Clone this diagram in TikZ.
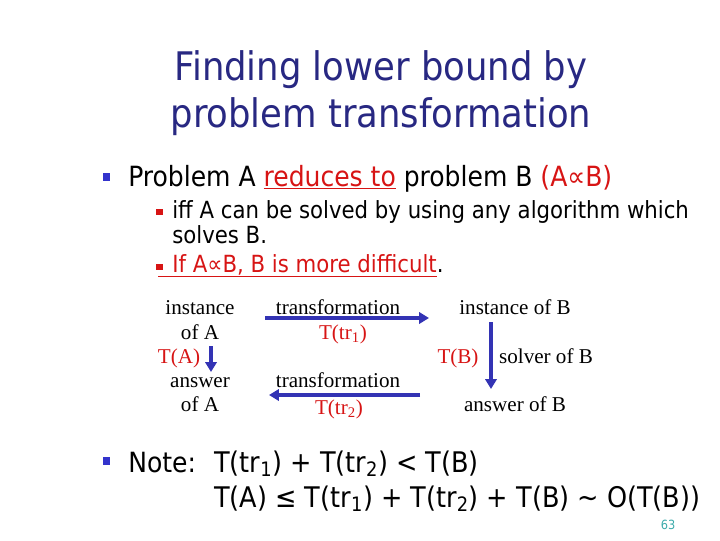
\documentclass[tikz,border=0pt]{standalone}
\usepackage{fontspec}
\setmainfont{DejaVu Sans Condensed}
\newfontfamily\diagfont{Liberation Serif}
\usetikzlibrary{arrows.meta}

\definecolor{titleblue}{RGB}{40,40,130}
\definecolor{bulletblue}{RGB}{51,51,204}
\definecolor{slidered}{RGB}{215,20,20}
\definecolor{arrowblue}{RGB}{51,51,180}
\definecolor{pageteal}{RGB}{60,170,170}

\begin{document}
\begin{tikzpicture}[x=0.025cm, y=-0.025cm,
	bul/.style={fill=bulletblue, inner sep=0pt, minimum size=5.5pt},
	subbul/.style={fill=slidered, inner sep=0pt, minimum size=4.5pt},
	txt/.style={anchor=base west, inner sep=0pt, font=\fontsize{19.8}{24}\selectfont},
	subtxt/.style={anchor=base west, inner sep=0pt, font=\fontsize{16.8}{20}\selectfont},
	dg/.style={anchor=base, inner sep=0pt, font=\diagfont\fontsize{15}{17}\selectfont},
	flow/.style={draw=arrowblue, line width=2.8pt, -{Triangle[length=7pt,width=8pt]}}]
	\useasboundingbox (0,0) rectangle (720,540);

	% title
	\node (title1) [anchor=base, inner sep=0pt, text=titleblue, font=\fontsize{28}{32}\selectfont] at (381,80) {Finding lower bound by};
	\node (title2) [anchor=base, inner sep=0pt, text=titleblue, font=\fontsize{28}{32}\selectfont] at (381,127) {problem transformation};

	% bullets
	\node (b1) [bul] at (106.5,177) {};
	\node (p1) [txt] at (128,186) {Problem A \textcolor{slidered}{\underline{reduces to}} problem B \textcolor{slidered}{(A∝B)}};
	\node (s1) [subbul] at (159.5,212) {};
	\node (q1) [subtxt] at (172,218) {iff A can be solved by using any algorithm which};
	\node (q2) [subtxt] at (172,243) {solves B.};
	\node (s2) [subbul] at (159.5,267) {};
	\node (q3) [subtxt] at (158,272) {\textcolor{slidered}{\underline{\hspace{10pt}If A∝B, B is more difficult}}.};

	% diagram
	\node (instA) [dg] at (200,314) {instance};
	\node (ofA1) [dg] at (200,339) {of A};
	\node (TA) [dg, text=slidered] at (179,363) {T(A)};
	\node (ansA) [dg] at (200,387) {answer};
	\node (ofA2) [dg] at (200,411) {of A};
	\node (tr1) [dg] at (338,314) {transformation};
	\node (Ttr1) [dg, text=slidered] at (343,339) {T(tr\textsubscript{1})};
	\node (tr2) [dg] at (338,387) {transformation};
	\node (Ttr2) [dg, text=slidered] at (339,414) {T(tr\textsubscript{2})};
	\node (instB) [dg] at (515,314) {instance of B};
	\node (TB) [dg, text=slidered] at (458,363) {T(B)};
	\node (solB) [dg] at (546,363) {solver of B};
	\node (ansB) [dg] at (515,411) {answer of B};

	\coordinate (a1) at (211,346);
	\coordinate (a2) at (211,372);
	\coordinate (t1s) at (265,318);
	\coordinate (t1e) at (429,318);
	\coordinate (bs) at (491,322);
	\coordinate (be) at (491,389);
	\coordinate (t2s) at (420,395);
	\coordinate (t2e) at (269,395);

	\draw [flow] (a1) -- (a2);
	\draw [flow] (t1s) -- (t1e);
	\draw [flow] (bs) -- (be);
	\draw [flow] (t2s) -- (t2e);

	% note
	\node (b2) [bul] at (106.5,461) {};
	\node (note) [txt] at (128,472) {Note:};
	\node (n1) [txt, font=\fontsize{20.2}{24}\selectfont] at (214,472) {T(tr\textsubscript{1}) + T(tr\textsubscript{2}) < T(B)};
	\node (n2) [txt, font=\fontsize{20.2}{24}\selectfont] at (214,507) {T(A) ≤ T(tr\textsubscript{1}) + T(tr\textsubscript{2}) + T(B) \textasciitilde{} O(T(B))};
	\node (page) [anchor=base, inner sep=0pt, text=pageteal, font=\fontsize{9}{10}\selectfont] at (668,529) {63};
\end{tikzpicture}
\end{document}
